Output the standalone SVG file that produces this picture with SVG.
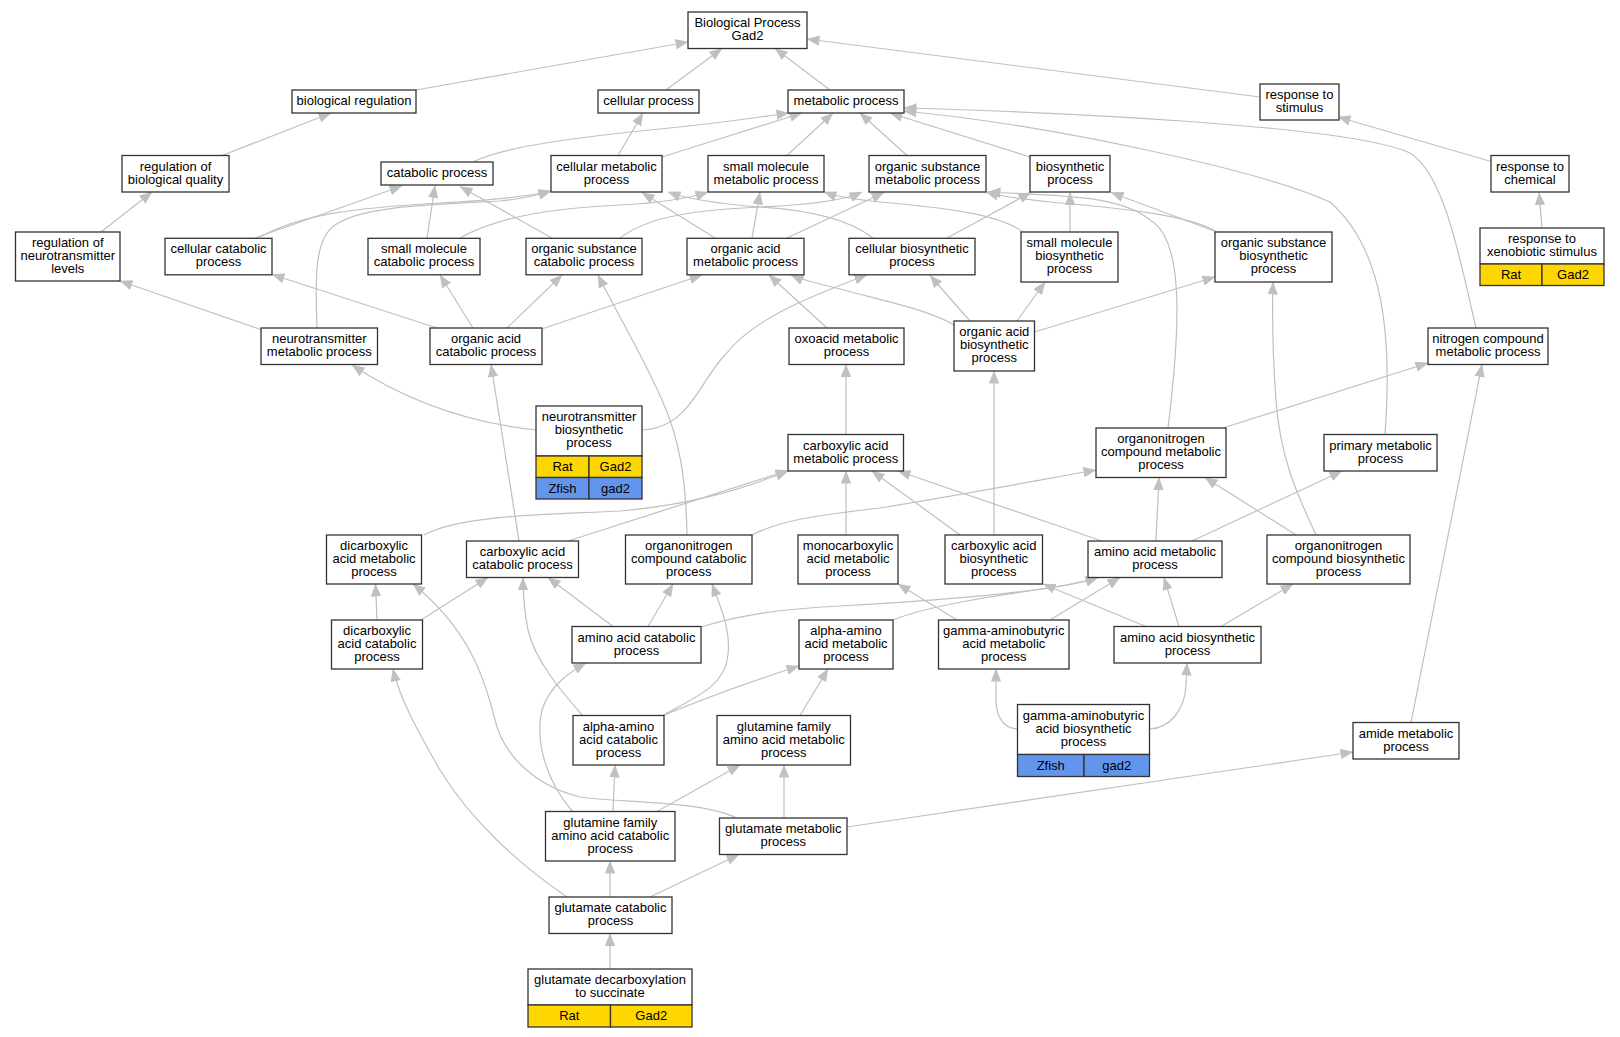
<svg xmlns="http://www.w3.org/2000/svg" width="1620" height="1037" viewBox="0 0 1620 1037">
<style>
.n rect{fill:#fff;stroke:#333;stroke-width:1.3}
.n rect.y{fill:#ffd700}
.n rect.b{fill:#6495ed}
text{font-family:"Liberation Sans",Arial,sans-serif;font-size:13px;text-anchor:middle;fill:#000}
.e path{fill:none;stroke:#c0c0c0;stroke-width:1.2;marker-end:url(#a)}
</style>
<defs>
<marker id="a" viewBox="0 0 13 10.4" refX="12.5" refY="5.2" markerWidth="13" markerHeight="10.4" markerUnits="userSpaceOnUse" orient="auto">
<path d="M0,0 L13,5.2 L0,10.4 z" fill="#c0c0c0"/>
</marker>
</defs>
<rect width="1620" height="1037" fill="#fff"/>
<g id="edges" class="e">
<path d="M416,90 L688,42"/>
<path d="M666,90 L722,48.5"/>
<path d="M830,90 L775,48.5"/>
<path d="M1260,97 L807,39"/>
<path d="M222,155.5 L331,113"/>
<path d="M101,232 L152,192"/>
<path d="M473,162 C505,146 580,137 660,129 S765,116 789,113"/>
<path d="M618,155.5 L643,113"/>
<path d="M662,157 L802,113"/>
<path d="M787,155.5 L833,113"/>
<path d="M907,155.5 L860,113"/>
<path d="M1030,157 L890,113"/>
<path d="M1476,328 C1460,260 1445,175 1410,153 C1350,125 1050,112 904,108"/>
<path d="M1385,434 C1392,340 1385,250 1330,202 C1260,170 1050,125 904,111"/>
<path d="M1491,161.5 L1338,117"/>
<path d="M1542,228 L1539,192.5"/>
<path d="M262,330 L120,281"/>
<path d="M317,328 C316,290 312,240 335,225 C360,207 420,205 500,201 C520,199 535,196 551,191"/>
<path d="M255,238 L402,186"/>
<path d="M260,237 C300,215 350,208 440,203 C500,200 530,196 551,191"/>
<path d="M427,238 L435,185.5"/>
<path d="M460,238 C500,215 560,208 620,205 C660,203 690,198 708,192"/>
<path d="M552,238 L460,186.5"/>
<path d="M620,238 C650,215 700,210 760,207 C810,205 845,200 862,192"/>
<path d="M715,238 L642,192.5"/>
<path d="M752,238 L760,192"/>
<path d="M787,238 L884,192.5"/>
<path d="M873,238 C850,220 810,210 760,207 C720,204 690,200 668,192"/>
<path d="M947,238 L1031,192.5"/>
<path d="M1023,232 C1000,215 950,208 880,202 C850,199 835,196 824,192"/>
<path d="M1070,232 L1070,192.5"/>
<path d="M1217,232 C1190,215 1120,208 1050,202 C1020,199 1000,196 986,192"/>
<path d="M1217,232 L1111,192.5"/>
<path d="M1168,428 C1180,330 1185,240 1150,220 C1120,195 1060,196 988,192"/>
<path d="M970,321 L930,275.5"/>
<path d="M1017,321 L1045,282"/>
<path d="M1034.5,332 L1215,277"/>
<path d="M954,325 C930,310 880,300 840,289 C815,283 800,279 791,275"/>
<path d="M827,328 L769,275"/>
<path d="M642,430 C690,428 700,380 725,355 C750,322 800,300 867,275"/>
<path d="M536,430 C490,425 420,410 352,365"/>
<path d="M437,328 L272,274.5"/>
<path d="M473,328 L440,275"/>
<path d="M507,328 L562,275"/>
<path d="M543,328.5 L702,275"/>
<path d="M846,434.5 L846,364.5"/>
<path d="M994,535 L994,371"/>
<path d="M1223,428 L1428,363"/>
<path d="M752,535 C780,520 820,515 880,508 C960,495 1040,480 1096,470"/>
<path d="M424,535 C460,515 540,515 620,511 C690,505 740,490 788,471"/>
<path d="M568,541 L788,470.5"/>
<path d="M519,541 L491,364.5"/>
<path d="M687,535 C686,480 680,440 662,400 C640,350 615,310 598,275"/>
<path d="M377,620 L375.5,584"/>
<path d="M421,620 L488,577.5"/>
<path d="M613,626.5 L548,577.5"/>
<path d="M648,626.5 L673,584"/>
<path d="M701,627 C740,615 780,609 840,606 C950,600 1050,592 1098,577.5"/>
<path d="M893,620 C930,605 1000,595 1050,588 C1070,585 1085,582 1098,577.5"/>
<path d="M1050,620 L1120,577.5"/>
<path d="M1179,626.5 L1164,577.5"/>
<path d="M846,535 L846,471"/>
<path d="M960,535 L872,471"/>
<path d="M1102,541 L898,471"/>
<path d="M1156,541 L1159,477.5"/>
<path d="M1192,541 L1342,471"/>
<path d="M1296,535 L1205,477.5"/>
<path d="M1316,535 C1300,500 1280,460 1276,400 C1273,360 1272,320 1273,282"/>
<path d="M957,620 L898,584"/>
<path d="M1146,626.5 L1043,584"/>
<path d="M1221,626.5 L1293,584"/>
<path d="M583,716 C560,690 535,660 528,630 C524,610 523,595 523,577.5"/>
<path d="M662,716 C700,695 725,685 728,655 C731,630 720,605 712,584"/>
<path d="M662,716 C700,700 740,685 799,666"/>
<path d="M800,715.5 L828,669"/>
<path d="M613,811.5 L615,765"/>
<path d="M657,811.5 L740,765"/>
<path d="M573,812 C545,780 535,740 542,710 C550,685 570,672 586,663"/>
<path d="M784,818 L784,765"/>
<path d="M737,818 C700,800 620,803 580,797 C540,787 505,760 495,720 C485,680 470,630 413,584"/>
<path d="M610,897 L610,861"/>
<path d="M650,897 L739,854.5"/>
<path d="M567,897 C520,865 470,820 440,770 C420,735 400,700 393,669"/>
<path d="M610,969 L610,933.5"/>
<path d="M847,827 L1353,752"/>
<path d="M1411,722.5 L1482,364.5"/>
<path d="M1017.5,729 C1002,728 995,715 996,695 L996,669"/>
<path d="M1149.5,729 C1170,728 1185,710 1186,685 L1187,663"/>
</g>
<g id="bp" class="n"><rect x="688" y="12" width="119" height="36.5"/><text x="747.5" y="27">Biological Process</text><text x="747.5" y="40">Gad2</text></g>
<g id="bioreg" class="n"><rect x="292" y="90" width="124" height="23"/><text x="354" y="104.8">biological regulation</text></g>
<g id="cellproc" class="n"><rect x="598" y="90" width="101" height="23"/><text x="648.5" y="104.8">cellular process</text></g>
<g id="metab" class="n"><rect x="788" y="90" width="116" height="23"/><text x="846" y="104.8">metabolic process</text></g>
<g id="respstim" class="n"><rect x="1260" y="84" width="79" height="36"/><text x="1299.5" y="98.8">response to</text><text x="1299.5" y="111.8">stimulus</text></g>
<g id="regbq" class="n"><rect x="122" y="155.5" width="107" height="36.5"/><text x="175.5" y="170.5">regulation of</text><text x="175.5" y="183.5">biological quality</text></g>
<g id="catab" class="n"><rect x="381" y="162" width="112" height="23"/><text x="437" y="176.8">catabolic process</text></g>
<g id="cellmet" class="n"><rect x="551" y="155.5" width="111" height="36.5"/><text x="606.5" y="170.5">cellular metabolic</text><text x="606.5" y="183.5">process</text></g>
<g id="smm" class="n"><rect x="708" y="155.5" width="116" height="36.5"/><text x="766" y="170.5">small molecule</text><text x="766" y="183.5">metabolic process</text></g>
<g id="osm" class="n"><rect x="869" y="155.5" width="117" height="36.5"/><text x="927.5" y="170.5">organic substance</text><text x="927.5" y="183.5">metabolic process</text></g>
<g id="bios" class="n"><rect x="1030" y="155.5" width="80" height="36.5"/><text x="1070" y="170.5">biosynthetic</text><text x="1070" y="183.5">process</text></g>
<g id="respchem" class="n"><rect x="1491" y="155.5" width="78" height="36.5"/><text x="1530" y="170.5">response to</text><text x="1530" y="183.5">chemical</text></g>
<g id="xeno" class="n"><rect x="1480" y="228" width="124" height="36"/><text x="1542" y="242.8">response to</text><text x="1542" y="255.8">xenobiotic stimulus</text><rect class="y" x="1480" y="264" width="62" height="21.5"/><rect class="y" x="1542" y="264" width="62" height="21.5"/><text x="1511" y="279">Rat</text><text x="1573" y="279">Gad2</text></g>
<g id="regnt" class="n"><rect x="15.5" y="232" width="104.5" height="49"/><text x="67.75" y="246.8">regulation of</text><text x="67.75" y="259.8">neurotransmitter</text><text x="67.75" y="272.8">levels</text></g>
<g id="cellcat" class="n"><rect x="165" y="238.3" width="107" height="36.5"/><text x="218.5" y="253.3">cellular catabolic</text><text x="218.5" y="266.3">process</text></g>
<g id="smc" class="n"><rect x="368" y="238.3" width="112" height="36.5"/><text x="424" y="253.3">small molecule</text><text x="424" y="266.3">catabolic process</text></g>
<g id="osc" class="n"><rect x="526" y="238.3" width="116" height="36.5"/><text x="584" y="253.3">organic substance</text><text x="584" y="266.3">catabolic process</text></g>
<g id="oam" class="n"><rect x="687" y="238.3" width="117" height="36.5"/><text x="745.5" y="253.3">organic acid</text><text x="745.5" y="266.3">metabolic process</text></g>
<g id="cbs" class="n"><rect x="849" y="238.3" width="126" height="36.5"/><text x="912" y="253.3">cellular biosynthetic</text><text x="912" y="266.3">process</text></g>
<g id="smb" class="n"><rect x="1021" y="232" width="97" height="50"/><text x="1069.5" y="247.3">small molecule</text><text x="1069.5" y="260.3">biosynthetic</text><text x="1069.5" y="273.3">process</text></g>
<g id="osb" class="n"><rect x="1215" y="232" width="117" height="50"/><text x="1273.5" y="247.3">organic substance</text><text x="1273.5" y="260.3">biosynthetic</text><text x="1273.5" y="273.3">process</text></g>
<g id="ntm" class="n"><rect x="261" y="328" width="116.5" height="36.5"/><text x="319.25" y="343">neurotransmitter</text><text x="319.25" y="356">metabolic process</text></g>
<g id="oac" class="n"><rect x="430" y="328" width="112" height="36.5"/><text x="486" y="343">organic acid</text><text x="486" y="356">catabolic process</text></g>
<g id="oxo" class="n"><rect x="789" y="328" width="115" height="36.5"/><text x="846.5" y="343">oxoacid metabolic</text><text x="846.5" y="356">process</text></g>
<g id="oab" class="n"><rect x="954" y="321" width="80.5" height="50"/><text x="994.25" y="336.3">organic acid</text><text x="994.25" y="349.3">biosynthetic</text><text x="994.25" y="362.3">process</text></g>
<g id="ncm" class="n"><rect x="1428" y="328" width="120" height="36.5"/><text x="1488" y="343">nitrogen compound</text><text x="1488" y="356">metabolic process</text></g>
<g id="ntb" class="n"><rect x="536" y="406" width="106" height="50"/><text x="589" y="421.3">neurotransmitter</text><text x="589" y="434.3">biosynthetic</text><text x="589" y="447.3">process</text><rect class="y" x="536" y="456" width="53" height="21.5"/><rect class="y" x="589" y="456" width="53" height="21.5"/><rect class="b" x="536" y="477.5" width="53" height="21.5"/><rect class="b" x="589" y="477.5" width="53" height="21.5"/><text x="562.5" y="471">Rat</text><text x="615.5" y="471">Gad2</text><text x="562.5" y="492.5">Zfish</text><text x="615.5" y="492.5">gad2</text></g>
<g id="cam" class="n"><rect x="788" y="434.5" width="115.5" height="36.5"/><text x="845.75" y="449.5">carboxylic acid</text><text x="845.75" y="462.5">metabolic process</text></g>
<g id="ocm" class="n"><rect x="1096" y="428" width="130" height="49.5"/><text x="1161" y="443">organonitrogen</text><text x="1161" y="456">compound metabolic</text><text x="1161" y="469">process</text></g>
<g id="pm" class="n"><rect x="1324" y="434.5" width="113" height="36.5"/><text x="1380.5" y="449.5">primary metabolic</text><text x="1380.5" y="462.5">process</text></g>
<g id="dam" class="n"><rect x="326.5" y="535" width="95" height="49"/><text x="374" y="549.8">dicarboxylic</text><text x="374" y="562.8">acid metabolic</text><text x="374" y="575.8">process</text></g>
<g id="cac" class="n"><rect x="466.5" y="541" width="112" height="36.5"/><text x="522.5" y="556">carboxylic acid</text><text x="522.5" y="569">catabolic process</text></g>
<g id="occ" class="n"><rect x="625.5" y="535" width="126.5" height="49"/><text x="688.75" y="549.8">organonitrogen</text><text x="688.75" y="562.8">compound catabolic</text><text x="688.75" y="575.8">process</text></g>
<g id="mcm" class="n"><rect x="798" y="535" width="100" height="49"/><text x="848" y="549.8">monocarboxylic</text><text x="848" y="562.8">acid metabolic</text><text x="848" y="575.8">process</text></g>
<g id="cab" class="n"><rect x="945" y="535" width="97.5" height="49"/><text x="993.75" y="549.8">carboxylic acid</text><text x="993.75" y="562.8">biosynthetic</text><text x="993.75" y="575.8">process</text></g>
<g id="aam" class="n"><rect x="1088" y="541" width="134" height="36.5"/><text x="1155" y="556">amino acid metabolic</text><text x="1155" y="569">process</text></g>
<g id="ocb" class="n"><rect x="1267" y="535" width="143" height="49"/><text x="1338.5" y="549.8">organonitrogen</text><text x="1338.5" y="562.8">compound biosynthetic</text><text x="1338.5" y="575.8">process</text></g>
<g id="dac" class="n"><rect x="331.5" y="620" width="91" height="49"/><text x="377" y="634.8">dicarboxylic</text><text x="377" y="647.8">acid catabolic</text><text x="377" y="660.8">process</text></g>
<g id="aac" class="n"><rect x="572" y="626.5" width="129" height="36.5"/><text x="636.5" y="641.5">amino acid catabolic</text><text x="636.5" y="654.5">process</text></g>
<g id="aaam" class="n"><rect x="799" y="620" width="94" height="49"/><text x="846" y="634.8">alpha-amino</text><text x="846" y="647.8">acid metabolic</text><text x="846" y="660.8">process</text></g>
<g id="gabam" class="n"><rect x="938.5" y="620" width="130.5" height="49"/><text x="1003.75" y="634.8">gamma-aminobutyric</text><text x="1003.75" y="647.8">acid metabolic</text><text x="1003.75" y="660.8">process</text></g>
<g id="aab" class="n"><rect x="1114" y="626.5" width="147" height="36.5"/><text x="1187.5" y="641.5">amino acid biosynthetic</text><text x="1187.5" y="654.5">process</text></g>
<g id="aaac" class="n"><rect x="573" y="715.5" width="91" height="49.5"/><text x="618.5" y="730.5">alpha-amino</text><text x="618.5" y="743.5">acid catabolic</text><text x="618.5" y="756.5">process</text></g>
<g id="gfam" class="n"><rect x="717" y="715.5" width="133.5" height="49.5"/><text x="783.75" y="730.5">glutamine family</text><text x="783.75" y="743.5">amino acid metabolic</text><text x="783.75" y="756.5">process</text></g>
<g id="gabab" class="n"><rect x="1017.5" y="704.5" width="132" height="50"/><text x="1083.5" y="719.8">gamma-aminobutyric</text><text x="1083.5" y="732.8">acid biosynthetic</text><text x="1083.5" y="745.8">process</text><rect class="b" x="1017.5" y="754.5" width="66.5" height="22"/><rect class="b" x="1084" y="754.5" width="65.5" height="22"/><text x="1050.75" y="769.8">Zfish</text><text x="1116.75" y="769.8">gad2</text></g>
<g id="amide" class="n"><rect x="1353" y="722.5" width="106" height="36.5"/><text x="1406" y="737.5">amide metabolic</text><text x="1406" y="750.5">process</text></g>
<g id="gfac" class="n"><rect x="545.5" y="811.5" width="129.5" height="49.5"/><text x="610.25" y="826.5">glutamine family</text><text x="610.25" y="839.5">amino acid catabolic</text><text x="610.25" y="852.5">process</text></g>
<g id="glum" class="n"><rect x="719.5" y="818" width="127.5" height="36.5"/><text x="783.25" y="833">glutamate metabolic</text><text x="783.25" y="846">process</text></g>
<g id="gluc" class="n"><rect x="549" y="897" width="123" height="36.5"/><text x="610.5" y="912">glutamate catabolic</text><text x="610.5" y="925">process</text></g>
<g id="gds" class="n"><rect x="528" y="969" width="164" height="36"/><text x="610" y="983.8">glutamate decarboxylation</text><text x="610" y="996.8">to succinate</text><rect class="y" x="528" y="1005" width="82.5" height="22"/><rect class="y" x="610.5" y="1005" width="81.5" height="22"/><text x="569.25" y="1020.3">Rat</text><text x="651.25" y="1020.3">Gad2</text></g>
</svg>
